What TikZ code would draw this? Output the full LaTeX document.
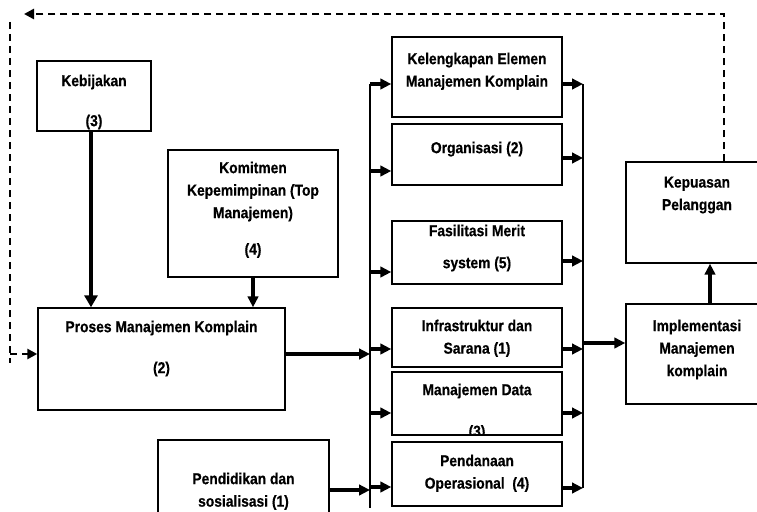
\documentclass[tikz,border=0pt]{standalone}
\usepackage{fontspec}
\setmainfont{Liberation Sans}[FakeStretch=0.875,FakeBold=0.5]
\usetikzlibrary{arrows.meta}
\begin{document}
\begin{tikzpicture}[x=1pt,y=-1pt,
  box/.style={draw, line width=1.4pt, inner sep=0pt},
  txt/.style={align=center, inner sep=0pt, anchor=north,
    font=\bfseries\fontsize{15.8}{22.5}\selectfont},
  arr/.style={line width=3.2pt, -{Triangle[length=11pt,width=10.5pt]}},
  heavy/.style={line width=4.6pt, -{Triangle[length=12pt,width=13pt]}},
  bus/.style={line width=1.6pt},
  fb/.style={line width=2.5pt, dash pattern=on 7pt off 5pt},
  fbarr/.style={fb, -{Triangle[length=10pt,width=10pt]}}]
\useasboundingbox (0,0) rectangle (757,511);
\fill[white] (0,0) rectangle (757,511);
\clip (0,0) rectangle (757,511);

% boxes
\node[box, minimum width=114pt, minimum height=70pt]  (kebij)  at (94,96) {};
\node[box, minimum width=170pt, minimum height=127pt] (komit)  at (253,213.5) {};
\node[box, minimum width=247pt, minimum height=102pt] (proses) at (161.5,359) {};
\node[box, minimum width=171pt, minimum height=90pt]  (pendid) at (243.5,485) {};
\node[box, minimum width=170pt, minimum height=80pt]  (kel)    at (477,77) {};
\node[box, minimum width=170pt, minimum height=61pt]  (org)    at (477,154.5) {};
\node[box, minimum width=170pt, minimum height=63pt]  (fas)    at (477,252.5) {};
\node[box, minimum width=170pt, minimum height=59pt]  (inf)    at (477,337.5) {};
\node[box, minimum width=170pt, minimum height=63pt]  (mdata)  at (477,403.5) {};
\node[box, minimum width=170pt, minimum height=64pt]  (pend)   at (477,474) {};
\node[box, minimum width=142pt, minimum height=101pt] (kep)    at (697,212.5) {};
\node[box, minimum width=142pt, minimum height=100pt] (impl)   at (697,354) {};

% labels
\node[txt] (kebij-t)  at (94,74.5)   {Kebijakan\\[17.5pt](3)};
\node[txt] (komit-t)  at (253,161.5) {Komitmen\\Kepemimpinan (Top\\Manajemen)\\[14pt](4)};
\node[txt] (proses-t) at (161.5,320.5) {Proses Manajemen Komplain\\[18.5pt](2)};
\node[txt] (pendid-t) at (243.5,472.5) {Pendidikan dan\\sosialisasi (1)};
\node[txt] (kel-t)    at (477,52.5)  {Kelengkapan Elemen\\Manajemen Komplain};
\node[txt] (org-t)    at (477,141.5) {Organisasi (2)};
\node[txt] (fas-t)    at (477,224.5) {Fasilitasi Merit\\[9.5pt]system (5)};
\node[txt] (inf-t)    at (477,319.5) {Infrastruktur dan\\Sarana (1)};
\begin{scope}
  \clip (mdata.north west) rectangle ([yshift=2pt]mdata.south east);
  \node[txt] (mdata-t) at (477,383.5) {Manajemen Data\\[19pt](3)};
\end{scope}
\node[txt] (pend-t)   at (477,454.5) {Pendanaan\\Operasional\ \ (4)};
\node[txt] (kep-t)    at (697,176.5) {Kepuasan\\Pelanggan};
\node[txt] (impl-t)   at (697,319.5) {Implementasi\\Manajemen\\komplain};

% distribution buses
\coordinate (lbtop) at (370,84);
\coordinate (lbbot) at (370,508);
\coordinate (rbtop) at (583,84);
\coordinate (rbbot) at (583,488);
\draw[bus] (lbtop) -- (lbbot);
\draw[bus] (rbtop) -- (rbbot);

% inputs into the process
\draw[heavy] ([xshift=-3pt]kebij.south) -- ([xshift=-3pt]kebij.south |- proses.north);
\draw[arr] (komit.south) -- (komit.south |- proses.north);
\draw[arr] ([yshift=5pt]proses.east) -- ([yshift=5pt]proses.east -| lbtop);
\draw[arr] ([yshift=-5pt]pendid.east) -- ([yshift=-5pt]pendid.east -| lbtop);

% bus to elements
\draw[arr] ([yshift=-7pt]kel.west -| lbtop)     -- ([yshift=-7pt]kel.west);
\draw[arr] ([yshift=-16.5pt]org.west -| lbtop)  -- ([yshift=-16.5pt]org.west);
\draw[arr] ([yshift=-19.5pt]fas.west -| lbtop)  -- ([yshift=-19.5pt]fas.west);
\draw[arr] ([yshift=-11.5pt]inf.west -| lbtop)  -- ([yshift=-11.5pt]inf.west);
\draw[arr] ([yshift=-9.5pt]mdata.west -| lbtop) -- ([yshift=-9.5pt]mdata.west);
\draw[arr] ([yshift=-13pt]pend.west -| lbtop)   -- ([yshift=-13pt]pend.west);

% elements to bus
\draw[arr] ([yshift=-7pt]kel.east)     -- ([yshift=-7pt]kel.east -| rbtop);
\draw[arr] ([yshift=-3.5pt]org.east)   -- ([yshift=-3.5pt]org.east -| rbtop);
\draw[arr] ([yshift=-8.5pt]fas.east)   -- ([yshift=-8.5pt]fas.east -| rbtop);
\draw[arr] ([yshift=-11.5pt]inf.east)  -- ([yshift=-11.5pt]inf.east -| rbtop);
\draw[arr] ([yshift=-9.5pt]mdata.east) -- ([yshift=-9.5pt]mdata.east -| rbtop);
\draw[arr] ([yshift=-14pt]pend.east)   -- ([yshift=-14pt]pend.east -| rbtop);

% outputs
\draw[arr] ([yshift=11pt]impl.west -| rbtop) -- ([yshift=11pt]impl.west);
\draw[arr] ([xshift=13pt]impl.north) -- ([xshift=13pt]impl.north |- kep.south);

% feedback loop
\coordinate (fbtip) at (24,14);
\coordinate (fbtop) at (10,22);
\coordinate (fbbot) at (10,363);
\draw[fbarr] ([xshift=27pt]kep.north) |- (fbtip);
\draw[fb] (fbtop) -- (fbbot);
\draw[fbarr] ([yshift=5pt]proses.west -| fbtop) -- ([yshift=5pt]proses.west);
\end{tikzpicture}
\end{document}
